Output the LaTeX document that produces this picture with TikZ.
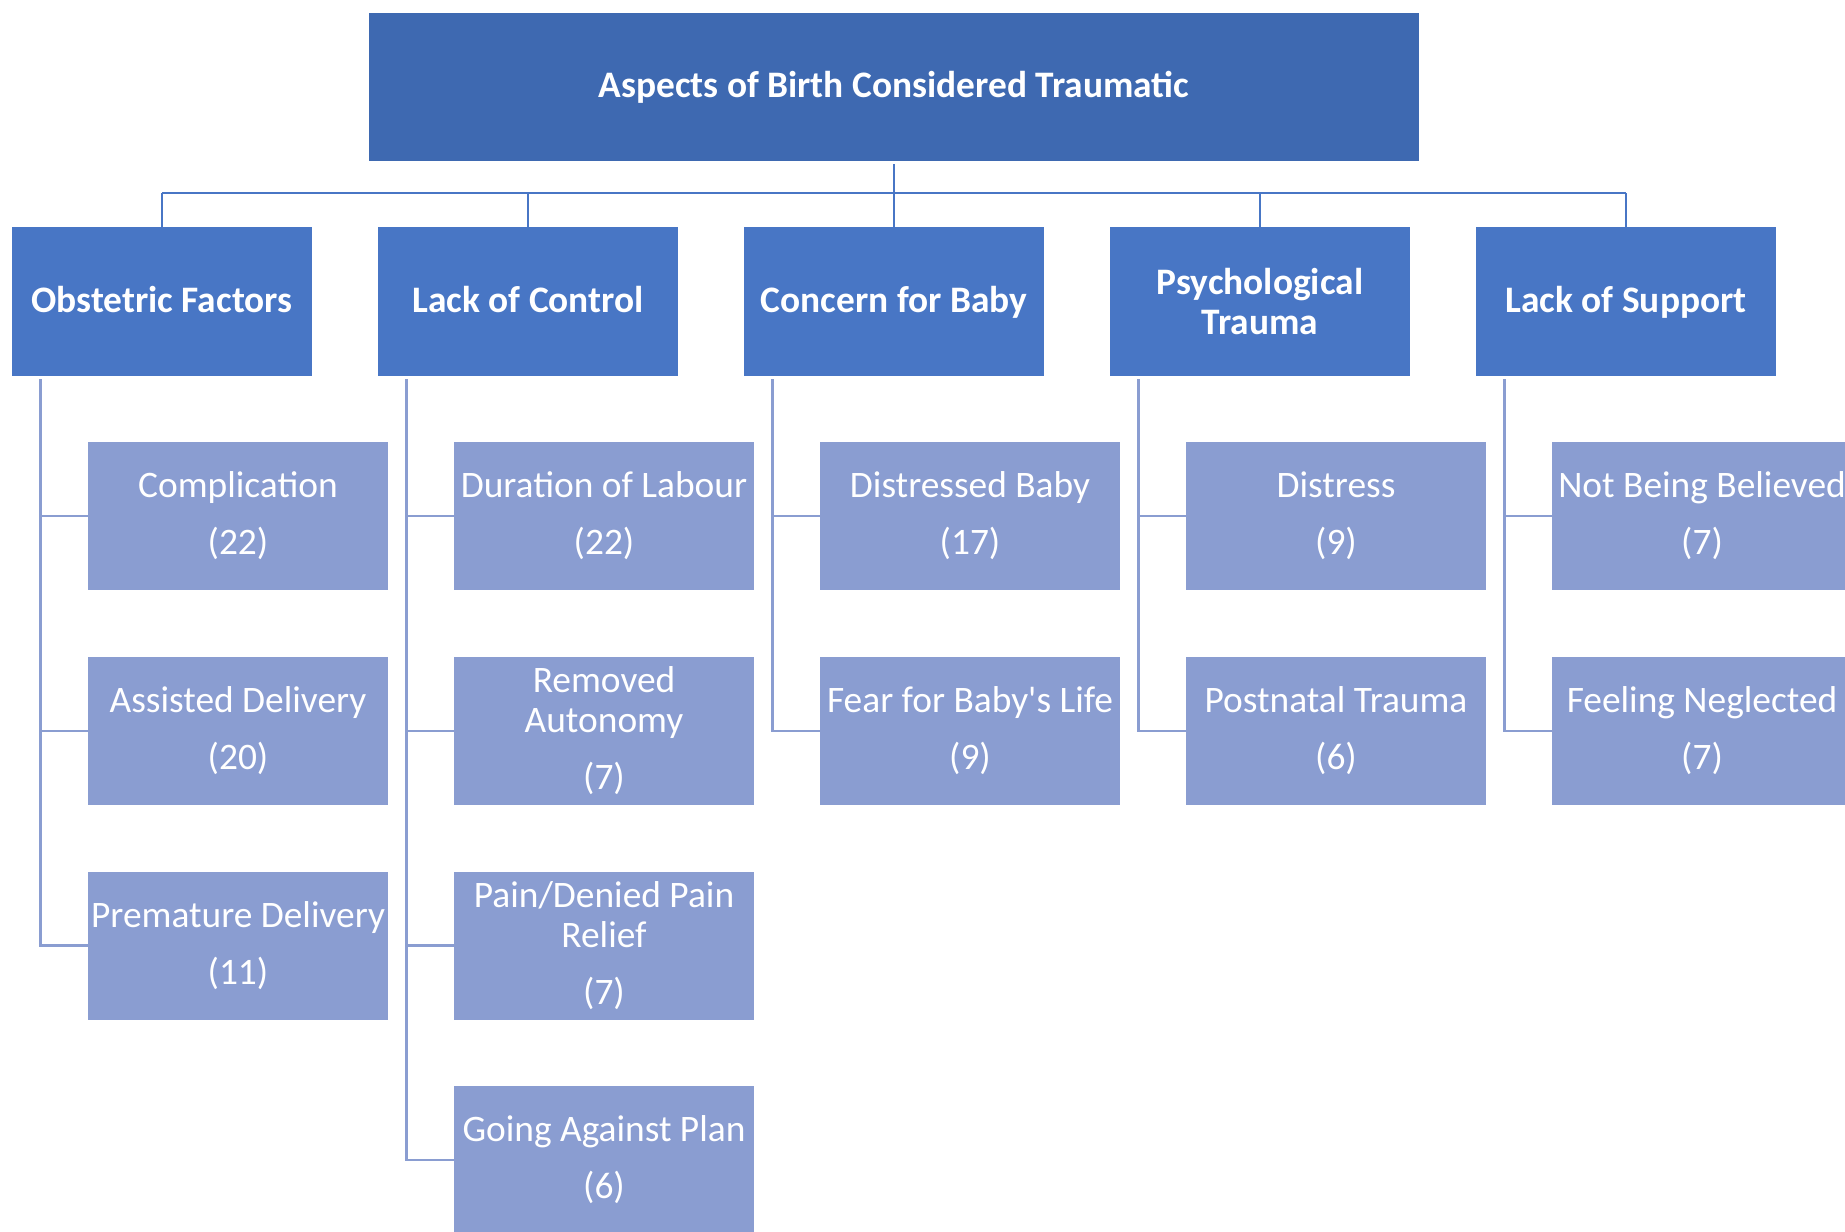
\documentclass[tikz,border=0pt]{standalone}
\usepackage{fontspec}
\setmainfont{Carlito}
\definecolor{topblue}{HTML}{3E69B1}
\definecolor{catblue}{HTML}{4876C5}
\definecolor{subblue}{HTML}{8A9DD1}
\tikzset{
  topbox/.style={fill=topblue, text=white, font=\bfseries\fontsize{18.7}{20}\selectfont,
    minimum width=525pt, minimum height=74pt, inner sep=0pt},
  catbox/.style={fill=catblue, text=white, font=\bfseries\fontsize{18.7}{20}\selectfont,
    minimum width=150pt, minimum height=74.5pt, align=center, inner sep=0pt},
  oneline/.style={text height=16.5pt, text depth=6pt},
  subbox/.style={fill=subblue, text=white, font=\fontsize{18.7}{20}\selectfont,
    minimum width=150pt, minimum height=74pt, align=center, inner sep=0pt},
  busline/.style={draw=catblue, line width=1.3pt},
  subline/.style={draw=subblue, line width=1.3pt}
}
\begin{document}
\begin{tikzpicture}[x=0.5pt, y=-0.5pt]
        \useasboundingbox (0,0) rectangle (1845,1231);
        \clip (0,0) rectangle (1845,1231);

        % title and categories
        \node[topbox] (top) at (894,87) {Aspects of Birth Considered Traumatic};
        \node[catbox, oneline] (obs) at (162,301.5) {Obstetric Factors};
        \node[catbox, oneline] (ctl) at (528,301.5) {Lack of Control};
        \node[catbox, oneline] (baby) at (894,301.5) {Concern for Baby};
        \node[catbox] (psy) at (1260,301.5) {Psychological\\Trauma};
        \node[catbox, oneline] (sup) at (1626,301.5) {Lack of Support};

        % sub-themes
        \node[subbox] (obs1) at (238,516) {Complication\\[8.5pt](22)};
        \node[subbox] (obs2) at (238,731) {Assisted Delivery\\[8.5pt](20)};
        \node[subbox] (obs3) at (238,945.5) {Premature Delivery\\[8.5pt](11)};

        \node[subbox] (ctl1) at (604,516) {Duration of Labour\\[8.5pt](22)};
        \node[subbox] (ctl2) at (604,731) {Removed\\Autonomy\\[8.5pt](7)};
        \node[subbox] (ctl3) at (604,945.5) {Pain/Denied Pain\\Relief\\[8.5pt](7)};
        \node[subbox] (ctl4) at (604,1160) {Going Against Plan\\[8.5pt](6)};

        \node[subbox] (baby1) at (970,516) {Distressed Baby\\[8.5pt](17)};
        \node[subbox] (baby2) at (970,731) {Fear for Baby\textquotesingle s Life\\[8.5pt](9)};

        \node[subbox] (psy1) at (1336,516) {Distress\\[8.5pt](9)};
        \node[subbox] (psy2) at (1336,731) {Postnatal Trauma\\[8.5pt](6)};

        \node[subbox] (sup1) at (1702,516) {Not Being Believed\\[8.5pt](7)};
        \node[subbox] (sup2) at (1702,731) {Feeling Neglected\\[8.5pt](7)};

        % top level connectors
        \coordinate (bus) at (894,193);
        \draw[busline, shorten <=1.5pt] (top.south) -- (bus);
        \draw[busline] (obs.north |- bus) -- (sup.north |- bus);
        \draw[busline] (obs.north |- bus) -- (obs.north);
        \draw[busline] (ctl.north |- bus) -- (ctl.north);
        \draw[busline] (baby.north |- bus) -- (baby.north);
        \draw[busline] (psy.north |- bus) -- (psy.north);
        \draw[busline] (sup.north |- bus) -- (sup.north);

        % sub-theme connectors
        \coordinate (obsL) at ([xshift=14.5pt]obs.south west);
        \coordinate (ctlL) at ([xshift=14.5pt]ctl.south west);
        \coordinate (babyL) at ([xshift=14.5pt]baby.south west);
        \coordinate (psyL) at ([xshift=14.5pt]psy.south west);
        \coordinate (supL) at ([xshift=14.5pt]sup.south west);

        \draw[subline, shorten <=1.5pt] (obsL) |- (obs3.west);
        \draw[subline] (obsL |- obs1.west) -- (obs1.west);
        \draw[subline] (obsL |- obs2.west) -- (obs2.west);

        \draw[subline, shorten <=1.5pt] (ctlL) |- (ctl4.west);
        \draw[subline] (ctlL |- ctl1.west) -- (ctl1.west);
        \draw[subline] (ctlL |- ctl2.west) -- (ctl2.west);
        \draw[subline] (ctlL |- ctl3.west) -- (ctl3.west);

        \draw[subline, shorten <=1.5pt] (babyL) |- (baby2.west);
        \draw[subline] (babyL |- baby1.west) -- (baby1.west);

        \draw[subline, shorten <=1.5pt] (psyL) |- (psy2.west);
        \draw[subline] (psyL |- psy1.west) -- (psy1.west);

        \draw[subline, shorten <=1.5pt] (supL) |- (sup2.west);
        \draw[subline] (supL |- sup1.west) -- (sup1.west);

        \end{tikzpicture}
\end{document}
